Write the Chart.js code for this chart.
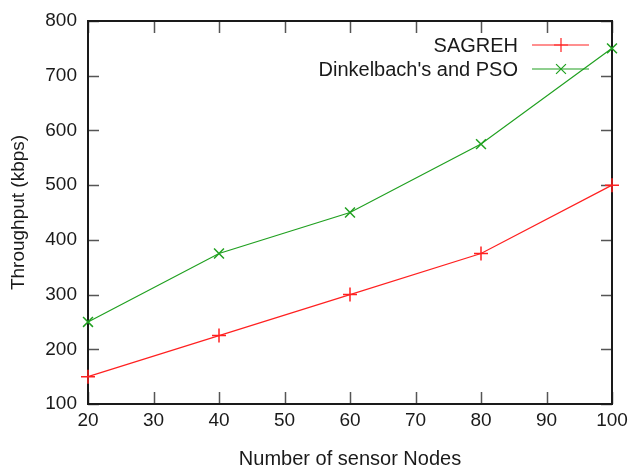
<!DOCTYPE html>
<html>
<head>
<meta charset="utf-8">
<script src="https://cdn.jsdelivr.net/npm/chart.js@4/dist/chart.umd.min.js"></script>
<style>
html,body{margin:0;padding:0;background:#fff;}
#wrap{width:629px;height:474px;position:relative;}
</style>
</head>
<body>
<div id="wrap"><canvas id="c" width="629" height="474"></canvas></div>
<script>
const nodes = [20, 40, 60, 80, 100];
const sagreh = [150, 225, 300, 375, 500];
const dinkelbach = [250, 375, 450, 575, 750];
const seriesNames = ['SAGREH', "Dinkelbach's and PSO"];
const xTicks = [20, 30, 40, 50, 60, 70, 80, 90, 100];
const yTicks = [100, 200, 300, 400, 500, 600, 700, 800];

const FONT = "'Liberation Sans', Arial, sans-serif";

const boxPlugin = {
  id: 'boxPlugin',
  beforeDatasetsDraw(chart) {
    const ctx = chart.ctx;
    const a = chart.chartArea;
    const xs = chart.scales.x, ys = chart.scales.y;
    ctx.save();
    ctx.strokeStyle = '#555';
    ctx.lineWidth = 1.5;
    ctx.beginPath();
    xTicks.forEach(v => {
      const px = Math.round(xs.getPixelForValue(v)) + 0.5;
      ctx.moveTo(px, a.bottom); ctx.lineTo(px, a.bottom - 12);
      ctx.moveTo(px, a.top); ctx.lineTo(px, a.top + 12);
    });
    yTicks.forEach(v => {
      const py = Math.round(ys.getPixelForValue(v)) + 0.5;
      ctx.moveTo(a.left, py); ctx.lineTo(a.left + 11, py);
      ctx.moveTo(a.right, py); ctx.lineTo(a.right - 11, py);
    });
    ctx.stroke();
    ctx.strokeStyle = '#1a1a1a';
    ctx.lineWidth = 2;
    ctx.strokeRect(a.left, a.top, a.right - a.left, a.bottom - a.top);
    ctx.restore();
  },
  afterDatasetsDraw(chart) {
    const ctx = chart.ctx;
    ctx.save();
    ctx.font = '20px ' + FONT;
    ctx.textAlign = 'right';
    ctx.textBaseline = 'middle';
    chart.data.datasets.forEach((ds, i) => {
      const y = 45 + i * 24;
      ctx.fillStyle = '#1a1a1a';
      ctx.fillText(ds.label, 518, y + 1);
      ctx.strokeStyle = ds.borderColor;
      ctx.lineWidth = 1.2;
      ctx.beginPath();
      ctx.moveTo(532, y); ctx.lineTo(589, y);
      ctx.stroke();
      ctx.strokeStyle = ds.pointBorderColor;
      ctx.fillStyle = ds.pointBorderColor;
      Chart.helpers.drawPoint(ctx, {
        pointStyle: ds.pointStyle, radius: ds.pointRadius,
        borderWidth: ds.pointBorderWidth, rotation: 0
      }, 561, y);
    });
    ctx.restore();
  }
};

new Chart(document.getElementById('c'), {
  type: 'line',
  data: {
    datasets: [
      {
        label: seriesNames[0],
        data: nodes.map((x, i) => ({x, y: sagreh[i]})),
        borderColor: '#ff2020',
        backgroundColor: '#ff2020',
        borderWidth: 1.2,
        pointStyle: 'cross',
        pointRadius: 7,
        pointBorderWidth: 1.5,
        pointBorderColor: '#ff2020',
        fill: false,
        tension: 0,
        clip: false
      },
      {
        label: seriesNames[1],
        data: nodes.map((x, i) => ({x, y: dinkelbach[i]})),
        borderColor: '#20a020',
        backgroundColor: '#20a020',
        borderWidth: 1.2,
        pointStyle: 'crossRot',
        pointRadius: 7,
        pointBorderWidth: 1.5,
        pointBorderColor: '#20a020',
        fill: false,
        tension: 0,
        clip: false
      }
    ]
  },
  options: {
    responsive: false,
    animation: false,
    devicePixelRatio: 1,
    layout: { padding: { left: 0, right: 17, top: 21, bottom: 0 } },
    plugins: { legend: { display: false }, tooltip: { enabled: false } },
    scales: {
      x: {
        type: 'linear',
        min: 20, max: 100,
        afterBuildTicks: s => { s.ticks = xTicks.map(v => ({value: v})); },
        afterFit: s => { s.height = 70; s.paddingRight = 0; s.paddingLeft = 0; },
        grid: { display: false, drawTicks: false },
        border: { display: false },
        ticks: { color: '#1a1a1a', font: { family: FONT, size: 19 }, padding: 5, maxRotation: 0 },
        title: { display: true, text: 'Number of sensor Nodes', color: '#1a1a1a',
                 font: { family: FONT, size: 20 }, padding: 3 }
      },
      y: {
        type: 'linear',
        min: 100, max: 800,
        afterBuildTicks: s => { s.ticks = yTicks.map(v => ({value: v})); },
        afterFit: s => { s.width = 88; s.paddingTop = 0; s.paddingBottom = 0; },
        grid: { display: false, drawTicks: false },
        border: { display: false },
        ticks: { color: '#1a1a1a', font: { family: FONT, size: 19 }, padding: 11 },
        title: { display: true, text: 'Throughput (kbps)', color: '#1a1a1a',
                 font: { family: FONT, size: 19 }, padding: 7 }
      }
    }
  },
  plugins: [boxPlugin]
});
</script>
</body>
</html>
